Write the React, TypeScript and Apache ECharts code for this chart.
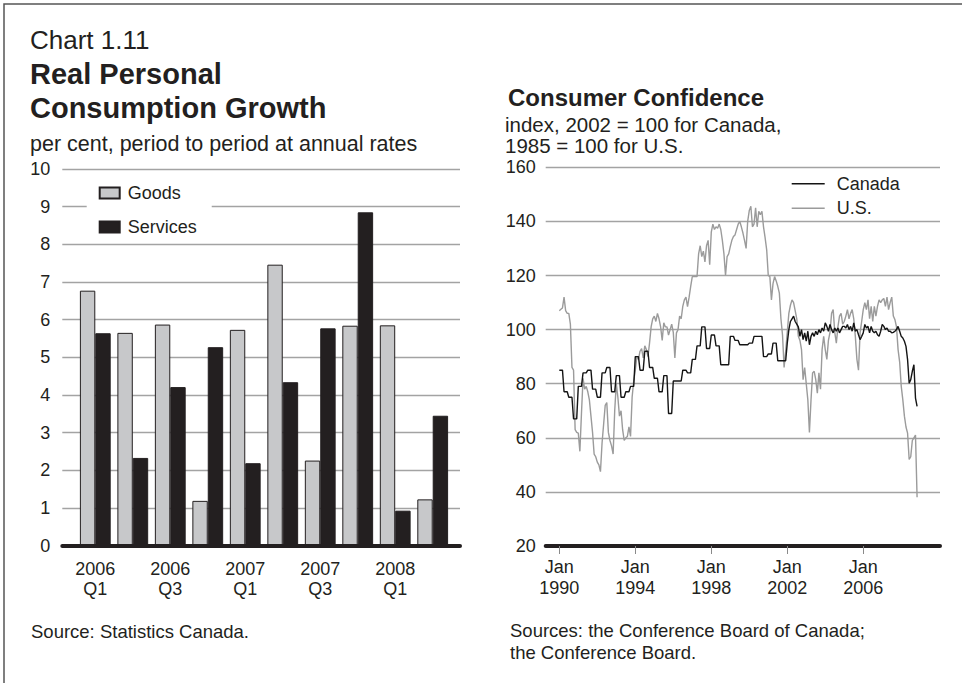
import React, { useEffect, useRef } from "react";
import * as echarts from "echarts";

const FONT = "'Liberation Sans', Arial, Helvetica, sans-serif";
const INK = "#231f20";
const GRID = "#a3a3a3";

// ---- Left chart: Real Personal Consumption Growth ----
const quarters = ["2006 Q1", "2006 Q2", "2006 Q3", "2006 Q4", "2007 Q1", "2007 Q2", "2007 Q3", "2007 Q4", "2008 Q1", "2008 Q2"];
const goods = [6.77, 5.65, 5.87, 1.19, 5.73, 7.46, 2.26, 5.84, 5.85, 1.23];
const services = [5.64, 2.33, 4.21, 5.27, 2.19, 4.34, 5.77, 8.85, 0.93, 3.45];
const quarterLabelIdx = [0, 2, 4, 6, 8];

// ---- Right chart: Consumer Confidence ----
const yearTicks = [1990, 1994, 1998, 2002, 2006];
// Canada: quarterly 1990Q1 - 2001Q4
const canadaQuarterly = [
  85, 77, 75, 67,
  79, 84, 85, 78,
  75, 84, 86, 77,
  83, 75, 77, 79,
  90, 85, 92, 86,
  82, 77, 83, 69,
  81, 81, 85, 84,
  89, 94, 101, 93,
  98, 94, 87, 87,
  97.5, 96, 94.4, 94.4,
  95, 97.5, 97.5, 90,
  91, 95, 88.5, 88.5,
];
// Canada: monthly from Jan 2002
const canada2002 = [95, 100, 103, 104, 105, 103, 102, 101, 97.5, 100, 96.3, 98.8];
const canada2003 = [95.7, 99.4, 94.4, 97.5, 98.8, 97.5, 99.4, 98.1, 100, 98.8, 100.6, 99.4];
const canada2004 = [102.5, 101.2, 99.4, 101.9, 100, 98.8, 100.6, 99.4, 100.6, 98.8, 100, 101.2];
const canada2005 = [101.2, 100.6, 101.9, 100, 101.2, 99.4, 102.5, 99.4, 100, 98.1, 96.3, 97.5];
const canada2006 = [98.8, 101.9, 100.6, 101.2, 98.8, 101.2, 99.4, 98.8, 99.4, 98.1, 97.5, 99.4];
const canada2007 = [101.9, 101.2, 100, 100.6, 99.4, 99.4, 98.8, 99, 99.4, 100, 101.2, 99.4];
const canada2008 = [97.5, 96.9, 95.7, 93.8, 88.9, 80.2, 81.5, 84.6, 87, 74.7, 71.6];

// U.S.: monthly from Jan 1990
const us1990 = [107, 107.5, 108, 112, 107, 106, 106, 102, 86, 85, 63, 62];
const us1991 = [61.7, 55, 69, 82, 78, 79, 77, 74, 68, 62, 54, 53];
const us1992 = [51, 50, 47.5, 58, 65, 72, 73, 62, 59, 57, 54, 70];
const us1993 = [80, 75, 68, 70, 63, 59, 60, 60.5, 64, 60.5, 75, 81];
const us1994 = [85, 90, 89, 92, 93, 89.5, 94, 92.6, 90, 95, 101, 104];
const us1995 = [105, 103, 106, 104, 101, 96, 102.5, 101, 101, 98, 100, 102];
const us1996 = [99, 89.5, 98.8, 100, 105, 104, 108.6, 111, 112, 108.5, 112, 116];
const us1997 = [119.6, 119.6, 119.6, 119.6, 128, 131, 127, 129, 125, 131, 133, 124];
const us1998 = [136, 139, 137, 138, 137.5, 139, 137, 133, 128, 120, 127, 128];
const us1999 = [130.7, 133, 134.4, 135, 137, 139, 140, 138, 135.7, 133, 130, 140];
const us2000 = [144, 145.6, 138, 139, 145, 138, 143.7, 142.5, 143.7, 138, 134, 129.5];
const us2001 = [120, 119.6, 111, 117, 119.6, 118, 116, 113.5, 104, 98, 86, 92];
const us2002 = [99, 106, 109, 111, 110, 107, 104, 97.5, 96, 92.6, 81.5, 86];
const us2003 = [80, 74, 62, 74, 84, 84.6, 81.5, 76.5, 84, 78, 92.6, 97.5];
const us2004 = [92.6, 89, 96, 99, 106, 107.4, 99, 95, 101, 105, 106, 102];
const us2005 = [103, 105, 107.4, 104, 106, 107.4, 104, 97.5, 89, 85, 98.8, 103];
const us2006 = [107.4, 110, 107.4, 111, 104, 108.6, 103, 108.6, 105, 108.6, 111, 110];
const us2007 = [111, 111.5, 108.6, 112, 107.4, 110, 112, 105, 103.7, 101, 92.6, 88];
const us2008 = [79, 74, 68, 64, 61.7, 52, 53, 59, 60, 61, 38];

const canadaMonthly = [
  ...canadaQuarterly.flatMap((v) => [v, v, v]),
  ...canada2002, ...canada2003, ...canada2004, ...canada2005, ...canada2006, ...canada2007, ...canada2008,
];
const usMonthly = [
  ...us1990, ...us1991, ...us1992, ...us1993, ...us1994, ...us1995, ...us1996, ...us1997, ...us1998, ...us1999,
  ...us2000, ...us2001, ...us2002, ...us2003, ...us2004, ...us2005, ...us2006, ...us2007, ...us2008,
];
const toSeries = (arr: number[]) => arr.map((v, i) => [1990 + i / 12, v]);

const txt = (text: string, x: number, y: number, size: number, weight = "normal", lineHeight?: number) => ({
  type: "text",
  silent: true,
  style: {
    x,
    y,
    text,
    fill: INK,
    font: `${weight} ${size}px ${FONT}`,
    verticalAlign: "middle",
    align: "left",
    ...(lineHeight ? { lineHeight } : {}),
  },
});

export default function App() {
  const ref = useRef<HTMLDivElement>(null);
  useEffect(() => {
    const chart = echarts.init(ref.current!, null, { renderer: "svg" });
    const option: any = {
      animation: false,
      backgroundColor: "#ffffff",
      textStyle: { fontFamily: FONT, color: INK },
      grid: [
        { left: 62.3, top: 169, width: 397.7, height: 376.7 },
        { left: 545.7, top: 167.3, width: 394.3, height: 378.7 },
      ],
      xAxis: [
        {
          gridIndex: 0,
          type: "value",
          min: -0.88,
          max: 9.728,
          z: 10,
          axisLine: { show: true, onZero: false, lineStyle: { color: INK, width: 4 } },
          axisTick: { show: false },
          splitLine: { show: false },
          axisLabel: {
            customValues: quarterLabelIdx,
            formatter: (v: number) => quarters[Math.round(v)].replace(" ", "\n"),
            margin: 13,
            fontSize: 18,
            lineHeight: 20,
            color: INK,
            fontFamily: FONT,
          },
        },
        {
          gridIndex: 1,
          type: "value",
          min: 1989.284,
          max: 2010.04,
          z: 10,
          axisLine: { show: true, onZero: false, lineStyle: { color: INK, width: 4 } },
          axisTick: { show: true, customValues: yearTicks, length: 8, lineStyle: { color: "#8a8a8a", width: 1 } },
          splitLine: { show: false },
          axisLabel: {
            customValues: yearTicks,
            formatter: (v: number) => "Jan\n" + Math.round(v),
            margin: 10,
            fontSize: 18,
            lineHeight: 21,
            color: INK,
            fontFamily: FONT,
          },
        },
      ],
      yAxis: [
        {
          gridIndex: 0,
          type: "value",
          min: 0,
          max: 10,
          interval: 1,
          axisLine: { show: false },
          axisTick: { show: false },
          splitLine: { show: true, lineStyle: { color: GRID, width: 1.3 } },
          axisLabel: { margin: 12, fontSize: 18, color: INK, fontFamily: FONT },
        },
        {
          gridIndex: 1,
          type: "value",
          min: 20,
          max: 160,
          interval: 20,
          axisLine: { show: false },
          axisTick: { show: false },
          splitLine: { show: true, lineStyle: { color: GRID, width: 1.3 } },
          axisLabel: { margin: 10, fontSize: 18, color: INK, fontFamily: FONT },
        },
      ],
      legend: [
        {
          data: ["Goods", "Services"],
          orient: "vertical",
          left: 86.7,
          top: 177,
          icon: "rect",
          itemWidth: 20,
          itemHeight: 11,
          itemGap: 16,
          backgroundColor: "#ffffff",
          padding: [7, 15, 7, 12],
          selectedMode: false,
          textStyle: { fontSize: 18, color: INK, fontFamily: FONT, padding: [0, 0, 0, 3] },
        },
        {
          data: ["Canada", "U.S."],
          orient: "vertical",
          left: 791.7,
          top: 174.7,
          icon: "rect",
          itemWidth: 33,
          itemHeight: 1.5,
          itemGap: 6.6,
          padding: 0,
          selectedMode: false,
          textStyle: { fontSize: 18, color: INK, fontFamily: FONT, padding: [0, 0, 0, 7] },
        },
      ],
      series: [
        {
          name: "Goods",
          type: "bar",
          xAxisIndex: 0,
          yAxisIndex: 0,
          data: goods.map((v, i) => [i, v]),
          barWidth: 15.4,
          barGap: "0%",
          itemStyle: { color: "#c7c8ca", borderColor: INK, borderWidth: 1 },
        },
        {
          name: "Services",
          type: "bar",
          xAxisIndex: 0,
          yAxisIndex: 0,
          data: services.map((v, i) => [i, v]),
          barWidth: 15.4,
          barGap: "0%",
          itemStyle: { color: INK, borderColor: INK, borderWidth: 1 },
        },
        {
          name: "U.S.",
          type: "line",
          xAxisIndex: 1,
          yAxisIndex: 1,
          data: toSeries(usMonthly),
          symbol: "none",
          lineStyle: { color: "#9b9b9b", width: 1.4 },
          itemStyle: { color: "#9b9b9b" },
        },
        {
          name: "Canada",
          type: "line",
          xAxisIndex: 1,
          yAxisIndex: 1,
          data: toSeries(canadaMonthly),
          symbol: "none",
          lineStyle: { color: "#141414", width: 1.4 },
          itemStyle: { color: "#141414" },
        },
      ],
      graphic: [
        {
          type: "rect",
          silent: true,
          shape: { x: 4, y: 4, width: 1100, height: 1100 },
          style: { fill: "none", stroke: "#555555", lineWidth: 1.5 },
        },
        txt("Chart 1.11", 30, 40, 26),
        txt("Real Personal", 30, 74, 29, "bold"),
        txt("Consumption Growth", 30, 108, 29, "bold"),
        txt("Consumer Confidence", 508, 97, 24, "bold"),
        txt("per cent, period to period at annual rates", 30, 144, 21.5),
        txt("index, 2002 = 100 for Canada,\n1985 = 100 for U.S.", 505, 135, 20.5, "normal", 21.5),
        txt("Source: Statistics Canada.", 31, 631, 18.5),
        txt("Sources: the Conference Board of Canada;\nthe Conference Board.", 510, 641, 18.5, "normal", 22),
      ],
    };
    chart.setOption(option);
    return () => chart.dispose();
  }, []);
  return (
    <div
      ref={ref}
      style={{ position: "fixed", left: 0, top: 0, width: 962, height: 683, background: "#ffffff" }}
    />
  );
}
